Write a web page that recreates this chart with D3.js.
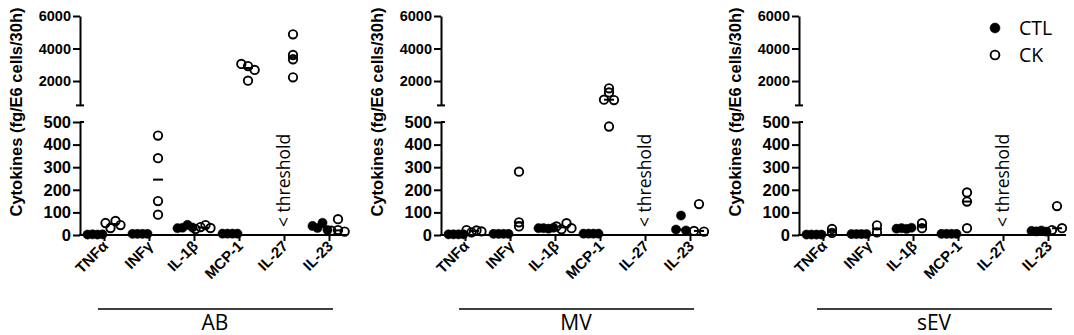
<!DOCTYPE html>
<html><head><meta charset="utf-8">
<script src="https://cdn.jsdelivr.net/npm/d3@7"></script>
<style>body{margin:0;background:#fff} svg{display:block}</style>
</head><body>
<svg id="chart" width="1074" height="335"></svg>
<script>
// ---- data ----
const categories = ["TNFα","INFγ","IL-1β","MCP-1","IL-27","IL-23"];
const panelNames = ["AB","MV","sEV"];
const groupNames = ["CTL","CK"];
const upperTicks = [2000,4000,6000];
const lowerTicks = [0,100,200,300,400,500];
const thresholdCategory = "IL-27";
const thresholdLabel = "< threshold";
const yTitle = "Cytokines (fg/E6 cells/30h)";

const AB_CTL  = [[2,3,2,3],[5,5,5,5],[30,32,45,33],[6,6,6,6],[],[40,31,54,22]];
const AB_CK   = [[53,31,62,44],[90,340,440,150],[26,35,44,31],[3050,2020,2920,2680],[3600,4870,2230,3340],[19,70,22,15]];
const MV_CTL  = [[3,3,3,3],[5,5,5,5],[30,30,28,32],[6,6,6,6],[],[86,24,20]];
const MV_CK   = [[22,12,20,16],[280,56,38],[38,25,52,30],[1550,1300,850,830,480],[],[137,18,15]];
const sEV_CTL = [[2,2,2,2],[4,4,4,4],[28,30,27,32],[5,5,5,5],[],[18,16,20,15]];
const sEV_CK  = [[27,9],[43,12],[52,30],[188,148,30],[],[22,128,30]];

const panelData = [[AB_CTL,AB_CK],[MV_CTL,MV_CK],[sEV_CTL,sEV_CK]];

// ---- layout ----
const svg = d3.select("#chart");
const panelLeft = [80, 441, 799];
const yLow = d3.scaleLinear().domain([0,500]).range([235,122]);
const yHigh = d3.scaleLinear().domain([500,6000]).range([105.4,16]);
const yPos = v => v > 500 ? yHigh(v) : yLow(v);
const groupOffset = [-9, 9];
const boldFont = "'Liberation Sans', Arial, sans-serif";
const lightFont = "'Open Sans', sans-serif";

function spread(values) {
  const pts = values.map((v,i)=>({v, i, y:yPos(v), dx:0}));
  const sorted = pts.slice().sort((a,b)=>a.y-b.y);
  const clusters = [];
  sorted.forEach(p=>{
    const last = clusters[clusters.length-1];
    if (last && p.y - last[last.length-1].y < 4) last.push(p); else clusters.push([p]);
  });
  clusters.forEach(c=>{
    c.sort((a,b)=>a.i-b.i);
    const k=c.length, s = k>1 ? Math.min(10, 20/k) : 0;
    c.forEach((p,j)=>{ p.dx = (j-(k-1)/2)*s; });
  });
  return pts;
}

panelNames.forEach((pname, pi) => {
  const ax = panelLeft[pi];
  const g = svg.append("g");
  const x = d3.scalePoint().domain(categories).range([ax+24, ax+249]);

  // y axes (broken: upper and lower segments)
  const lowAxis = g.append("g").attr("transform",`translate(${ax},0)`)
    .call(d3.axisLeft(yLow).tickValues(lowerTicks).tickFormat(d3.format("d")).tickSize(7).tickSizeOuter(0).tickPadding(2));
  const highAxis = g.append("g").attr("transform",`translate(${ax},0)`)
    .call(d3.axisLeft(yHigh).tickValues(upperTicks).tickFormat(d3.format("d")).tickSize(7).tickSizeOuter(0).tickPadding(2));
  [lowAxis, highAxis].forEach(a=>{
    a.selectAll("path,line").attr("stroke","#000").attr("stroke-width",2);
    a.selectAll("text").attr("fill","#000").attr("font-family",boldFont).attr("font-weight","bold");
  });
  lowAxis.selectAll("text").attr("font-size",16.5);
  highAxis.selectAll("text").attr("font-size",14.5);
  g.append("line").attr("x1",ax-4).attr("x2",ax+4).attr("y1",yHigh(500)).attr("y2",yHigh(500)).attr("stroke","#000").attr("stroke-width",2);
  g.append("line").attr("x1",ax).attr("x2",ax+4).attr("y1",yLow(500)).attr("y2",yLow(500)).attr("stroke","#000").attr("stroke-width",2);

  // x axis
  const xAxis = g.append("g").attr("transform",`translate(0,${yLow(0)})`)
    .call(d3.axisBottom(x).tickSize(6).tickSizeOuter(0));
  xAxis.select(".domain").remove();
  xAxis.selectAll("text").remove();
  xAxis.selectAll("line").attr("stroke","#000").attr("stroke-width",2);
  g.append("line").attr("x1",ax-1).attr("x2",ax+267).attr("y1",yLow(0)).attr("y2",yLow(0)).attr("stroke","#000").attr("stroke-width",2);
  g.selectAll(null).data(categories).enter().append("text")
    .attr("transform", d => `translate(${x(d)+5},${yLow(0)+12}) rotate(-45)`)
    .attr("text-anchor","end")
    .attr("fill","#000").attr("font-family",boldFont).attr("font-weight","bold").attr("font-size",15)
    .text(d=>d);

  // y title
  g.append("text").attr("transform",`translate(${ax-64},112) rotate(-90)`)
    .attr("text-anchor","middle").attr("dominant-baseline","central")
    .attr("font-family",boldFont).attr("font-weight","bold").attr("font-size",16.5).text(yTitle);

  // threshold label
  g.append("text").attr("transform",`translate(${x(thresholdCategory)},227) rotate(-90)`)
    .attr("dy","0.35em").attr("font-family",lightFont).attr("font-size",17.5).text(thresholdLabel);

  // points + median lines
  panelData[pi].forEach((groups, gi) => {
    groups.forEach((vals, ci) => {
      if (!vals.length) return;
      const cx = x(categories[ci]) + groupOffset[gi];
      const pts = spread(vals);
      g.selectAll(null).data(pts).enter().append("circle")
        .attr("cx",d=>cx+d.dx).attr("cy",d=>d.y)
        .attr("r", gi===0 ? 4.6 : 4.2)
        .attr("fill", gi===0 ? "#000" : "none")
        .attr("stroke","#000").attr("stroke-width", gi===0 ? 0.5 : 1.9);
      const m = d3.median(vals);
      g.append("line").attr("x1",cx-5).attr("x2",cx+5).attr("y1",yPos(m)).attr("y2",yPos(m))
        .attr("stroke","#000").attr("stroke-width",2);
    });
  });

  // group bracket + label
  g.append("line").attr("x1",ax+18).attr("x2",ax+253).attr("y1",309).attr("y2",309).attr("stroke","#000").attr("stroke-width",1.6);
  g.append("text").attr("x",ax+135).attr("y",330).attr("text-anchor","middle")
    .attr("font-family",lightFont).attr("font-size",21).text(pname);
});

// legend
const legend = svg.append("g");
groupNames.forEach((name,i)=>{
  const ly = 28 + i*27;
  legend.append("circle").attr("cx",995).attr("cy",ly).attr("r",i===0?5:4.4)
    .attr("fill", i===0?"#000":"none").attr("stroke","#000").attr("stroke-width",i===0?0.5:1.9);
  legend.append("text").attr("x",1019).attr("y",ly).attr("dy","0.35em")
    .attr("font-family",lightFont).attr("font-size",19.5).text(name);
});
</script>
</body></html>
